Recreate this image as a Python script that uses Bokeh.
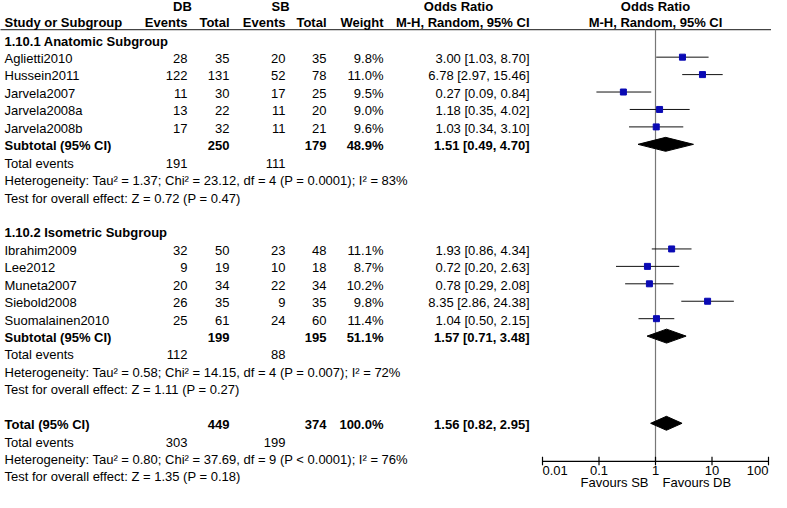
from bokeh.plotting import figure
from bokeh.models import Range1d, LogScale
from bokeh.core.properties import value
from bokeh.embed import file_html
from bokeh.resources import INLINE

# ---------------- data ----------------
group_names = ["1.10.1 Anatomic Subgroup", "1.10.2 Isometric Subgroup"]
study_names = ["Aglietti2010", "Hussein2011", "Jarvela2007", "Jarvela2008a", "Jarvela2008b",
               "Ibrahim2009", "Lee2012", "Muneta2007", "Siebold2008", "Suomalainen2010"]
study_group = [0, 0, 0, 0, 0, 1, 1, 1, 1, 1]
db_events = [28, 122, 11, 13, 17, 32, 9, 20, 26, 25]
db_total = [35, 131, 30, 22, 32, 50, 19, 34, 35, 61]
sb_events = [20, 52, 17, 11, 11, 23, 10, 22, 9, 24]
sb_total = [35, 78, 25, 20, 21, 48, 18, 34, 35, 60]
weights = [9.8, 11.0, 9.5, 9.0, 9.6, 11.1, 8.7, 10.2, 9.8, 11.4]
or_est = [3.00, 6.78, 0.27, 1.18, 1.03, 1.93, 0.72, 0.78, 8.35, 1.04]
or_lo = [1.03, 2.97, 0.09, 0.35, 0.34, 0.86, 0.20, 0.29, 2.86, 0.50]
or_hi = [8.70, 15.46, 0.84, 4.02, 3.10, 4.34, 2.63, 2.08, 24.38, 2.15]

sub_db_total = [250, 199]
sub_sb_total = [179, 195]
sub_weight = [48.9, 51.1]
sub_est = [1.51, 1.57]
sub_lo = [0.49, 0.71]
sub_hi = [4.70, 3.48]
sub_db_events = [191, 112]
sub_sb_events = [111, 88]
sub_het = ["Heterogeneity: Tau\u00b2 = 1.37; Chi\u00b2 = 23.12, df = 4 (P = 0.0001); I\u00b2 = 83%",
           "Heterogeneity: Tau\u00b2 = 0.58; Chi\u00b2 = 14.15, df = 4 (P = 0.007); I\u00b2 = 72%"]
sub_test = ["Test for overall effect: Z = 0.72 (P = 0.47)",
            "Test for overall effect: Z = 1.11 (P = 0.27)"]

tot_db_total, tot_sb_total, tot_weight = 449, 374, 100.0
tot_est, tot_lo, tot_hi = 1.56, 0.82, 2.95
tot_db_events, tot_sb_events = 303, 199
tot_het = "Heterogeneity: Tau\u00b2 = 0.80; Chi\u00b2 = 37.69, df = 9 (P < 0.0001); I\u00b2 = 76%"
tot_test = "Test for overall effect: Z = 1.35 (P = 0.18)"

axis_ticks = [0.01, 0.1, 1, 10, 100]
tick_labels = ["0.01", "0.1", "1", "10", "100"]
favours = ["Favours SB", "Favours DB"]

# ---------------- layout constants (reference pixels) ----------------
W, H = 771, 492
X_LEFT = 12
X_DBE, X_DBT, X_SBE, X_SBT, X_W, X_CI = 195, 237, 293, 334, 391, 537
FONT = value("Liberation Sans")
FS = "13px"
TXT_DY = 0.08

p = figure(width=W, height=H, x_range=Range1d(8, 779), y_range=Range1d(27.97, -0.25),
           output_backend="svg", toolbar_location=None, min_border=0,
           x_axis_location=None, y_axis_location=None)
p.grid.visible = False
p.outline_line_color = None
p.background_fill_color = "white"
p.extra_x_ranges = {"or": Range1d(10 ** -11.593, 10 ** 2.053)}
p.extra_x_scales = {"or": LogScale()}

texts = {}


def add_text(x, row, s, align="left", bold=False, rng="default"):
    key = (align, bold, rng)
    d = texts.setdefault(key, {"x": [], "y": [], "t": []})
    d["x"].append(x)
    d["y"].append(row + TXT_DY)
    d["t"].append(s)


def ci(e, l, h):
    return f"{e:.2f} [{l:.2f}, {h:.2f}]"


# headers
add_text(190, 0, "DB", "center", True)
add_text(288, 0, "SB", "center", True)
add_text(466, 0, "Odds Ratio", "center", True)
add_text(663, 0, "Odds Ratio", "center", True)
add_text(X_LEFT, 0.95, "Study or Subgroup", "left", True)
add_text(X_DBE, 0.95, "Events", "right", True)
add_text(X_DBT, 0.95, "Total", "right", True)
add_text(X_SBE, 0.95, "Events", "right", True)
add_text(X_SBT, 0.95, "Total", "right", True)
add_text(X_W, 0.95, "Weight", "right", True)
add_text(X_CI, 0.95, "M-H, Random, 95% CI", "right", True)
add_text(663, 0.95, "M-H, Random, 95% CI", "center", True)

study_rows = []
sub_rows = []
row = 2
for g, gname in enumerate(group_names):
    add_text(X_LEFT, row, gname, "left", True)
    row += 1
    for i, name in enumerate(study_names):
        if study_group[i] != g:
            continue
        add_text(X_LEFT, row, name)
        add_text(X_DBE, row, str(db_events[i]), "right")
        add_text(X_DBT, row, str(db_total[i]), "right")
        add_text(X_SBE, row, str(sb_events[i]), "right")
        add_text(X_SBT, row, str(sb_total[i]), "right")
        add_text(X_W, row, f"{weights[i]:.1f}%", "right")
        add_text(X_CI, row, ci(or_est[i], or_lo[i], or_hi[i]), "right")
        study_rows.append(row)
        row += 1
    add_text(X_LEFT, row, "Subtotal (95% CI)", "left", True)
    add_text(X_DBT, row, str(sub_db_total[g]), "right", True)
    add_text(X_SBT, row, str(sub_sb_total[g]), "right", True)
    add_text(X_W, row, f"{sub_weight[g]:.1f}%", "right", True)
    add_text(X_CI, row, ci(sub_est[g], sub_lo[g], sub_hi[g]), "right", True)
    sub_rows.append(row)
    row += 1
    add_text(X_LEFT, row, "Total events")
    add_text(X_DBE, row, str(sub_db_events[g]), "right")
    add_text(X_SBE, row, str(sub_sb_events[g]), "right")
    row += 1
    add_text(X_LEFT, row, sub_het[g])
    row += 1
    add_text(X_LEFT, row, sub_test[g])
    row += 2

tot_row = row
add_text(X_LEFT, row, "Total (95% CI)", "left", True)
add_text(X_DBT, row, str(tot_db_total), "right", True)
add_text(X_SBT, row, str(tot_sb_total), "right", True)
add_text(X_W, row, f"{tot_weight:.1f}%", "right", True)
add_text(X_CI, row, ci(tot_est, tot_lo, tot_hi), "right", True)
row += 1
add_text(X_LEFT, row, "Total events")
add_text(X_DBE, row, str(tot_db_events), "right")
add_text(X_SBE, row, str(tot_sb_events), "right")
row += 1
add_text(X_LEFT, row, tot_het)
row += 1
add_text(X_LEFT, row, tot_test)

# header rule
RULE_ROW = 1.417
AXIS_ROW = 26.19
p.segment(x0=[0], y0=[RULE_ROW], x1=[787], y1=[RULE_ROW], line_color="#444444", line_width=1.2)

# forest: null line
p.segment(x0=[1], y0=[RULE_ROW], x1=[1], y1=[AXIS_ROW], x_range_name="or",
          line_color="#777777", line_width=1.2)

# study CIs and squares
p.segment(x0=or_lo, y0=study_rows, x1=or_hi, y1=study_rows, x_range_name="or",
          line_color="#111111", line_width=1)
p.scatter(x=or_est, y=study_rows, marker="square", size=6, x_range_name="or",
          fill_color="#0a0ab4", line_color="#0a0ab4")

# diamonds
DH = 0.4
d_est = sub_est + [tot_est]
d_lo = sub_lo + [tot_lo]
d_hi = sub_hi + [tot_hi]
d_rows = sub_rows + [tot_row]
xs = [[l, e, h, e] for e, l, h in zip(d_est, d_lo, d_hi)]
ys = [[r, r - DH, r, r + DH] for r in d_rows]
p.patches(xs=xs, ys=ys, x_range_name="or", fill_color="black", line_color="black")

# axis
p.segment(x0=[axis_ticks[0]], y0=[AXIS_ROW], x1=[axis_ticks[-1]], y1=[AXIS_ROW],
          x_range_name="or", line_color="black", line_width=1.2)
p.segment(x0=axis_ticks, y0=[AXIS_ROW - 0.27] * len(axis_ticks), x1=axis_ticks,
          y1=[AXIS_ROW + 0.22] * len(axis_ticks), x_range_name="or",
          line_color="black", line_width=1.2)
for i, (t, lab) in enumerate(zip(axis_ticks, tick_labels)):
    al = "left" if i == 0 else ("right" if i == len(axis_ticks) - 1 else "center")
    add_text(t, 26.69 - TXT_DY, lab, al, False, "or")

add_text(656, 27.42 - TXT_DY, favours[0], "right")
add_text(670, 27.42 - TXT_DY, favours[1], "left")

for (align, bold, rng), d in texts.items():
    kw = {}
    if rng != "default":
        kw["x_range_name"] = rng
    p.text(x=d["x"], y=d["y"], text=d["t"], text_align=align, text_baseline="middle",
           text_font=FONT, text_font_size=FS, text_color="black",
           text_font_style="bold" if bold else "normal", **kw)

open("out.html", "w").write(file_html(p, INLINE))
